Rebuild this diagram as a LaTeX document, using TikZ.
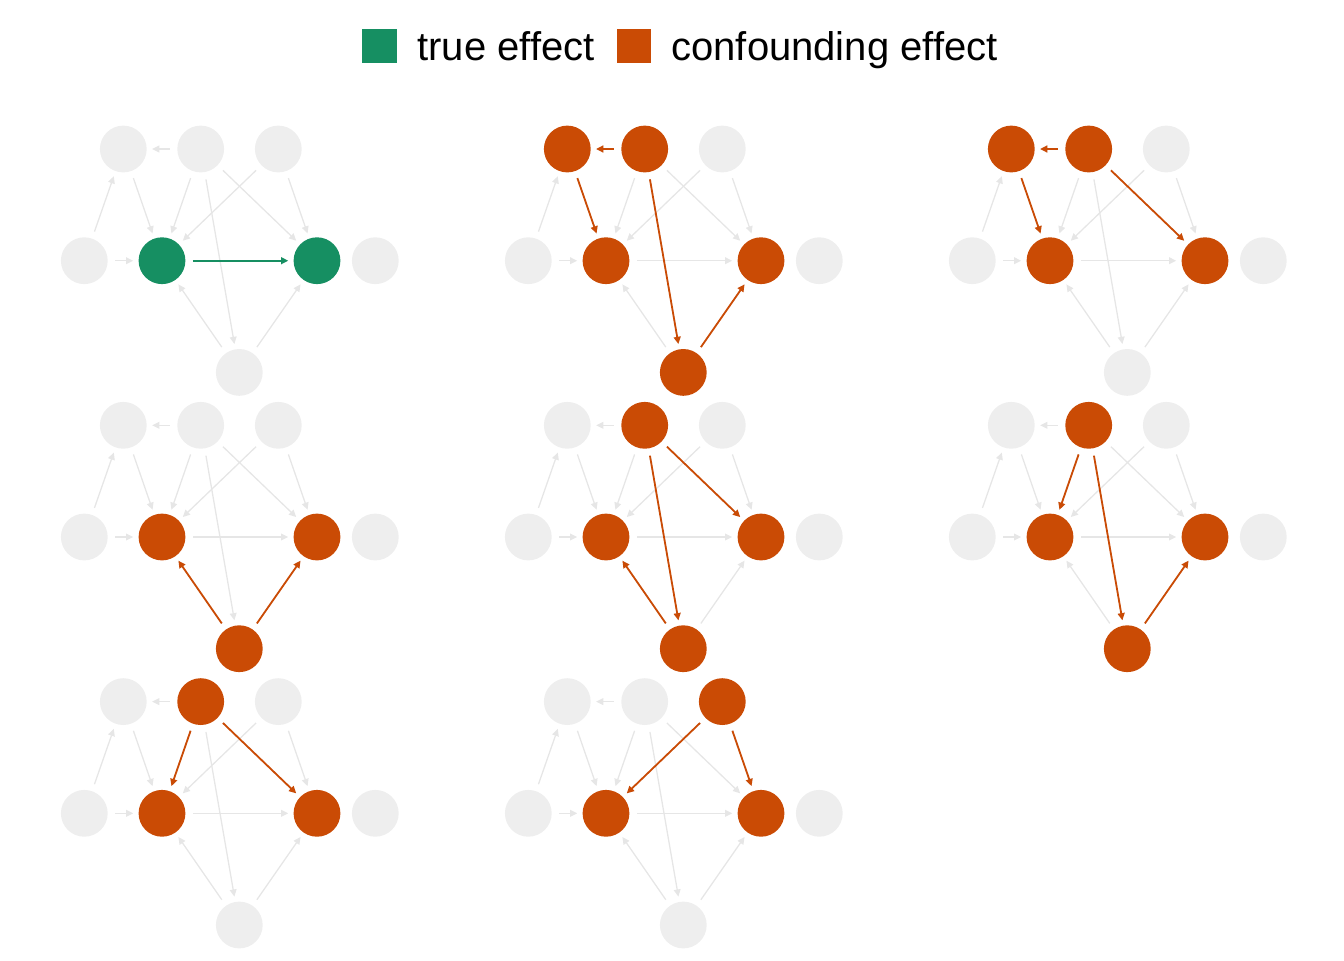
\documentclass[tikz,border=0pt]{standalone}
\usepackage{fontspec}
\setmainfont{Liberation Sans}
\usetikzlibrary{arrows.meta}
\definecolor{truegreen}{HTML}{168F62}
\definecolor{confred}{HTML}{CA4B05}
\definecolor{idlegray}{HTML}{EEEEEE}
\definecolor{edgegray}{HTML}{E6E6E6}
\tikzset{x=0.5pt,y=-0.5pt,
  dot/.style={circle,fill=idlegray,minimum size=23.4pt,inner sep=0pt},
  faint/.style={draw,-{Triangle[length=3.6pt,width=3.4pt]},color=edgegray,line width=0.65pt,shorten <=3.5pt,shorten >=2.5pt},
  strong/.style={faint,line width=0.9pt},
  truedot/.style={fill=truegreen},
  confdot/.style={fill=confred},
  truearc/.style={strong,color=truegreen},
  confarc/.style={strong,color=confred},
  key/.style={minimum size=17.2pt,inner sep=0pt},
  legend/.style={anchor=base west,inner sep=0pt,font=\fontsize{20}{24}\selectfont},
  na/.style={},nb/.style={},nc/.style={},nl/.style={},
  nx/.style={},ny/.style={},nr/.style={},nm/.style={}}

\newcommand{\dagpanel}[3]{%
  \begin{scope}[shift={(#2,#3)}]
    \node[dot,na] (#1a) at (-38.7,-111.7) {};
    \node[dot,nb] (#1b) at (38.7,-111.7) {};
    \node[dot,nc] (#1c) at (116.3,-111.7) {};
    \node[dot,nl] (#1l) at (-77.7,0) {};
    \node[dot,nx] (#1x) at (0,0) {};
    \node[dot,ny] (#1y) at (155,0) {};
    \node[dot,nr] (#1r) at (213.3,0) {};
    \node[dot,nm] (#1m) at (77.3,111.7) {};
  \end{scope}
  \path
    (#1b) edge[faint] (#1a)
    (#1l) edge[faint] (#1a)
    (#1a) edge[faint] (#1x)
    (#1b) edge[faint] (#1x)
    (#1c) edge[faint] (#1x)
    (#1l) edge[faint] (#1x)
    (#1b) edge[faint] (#1y)
    (#1c) edge[faint] (#1y)
    (#1x) edge[faint] (#1y)
    (#1b) edge[faint] (#1m)
    (#1m) edge[faint] (#1x)
    (#1m) edge[faint] (#1y)
    ;
}

\begin{document}
\begin{tikzpicture}
  \useasboundingbox (0,0) rectangle (1344,960);

  \node[key,fill=truegreen] (ktrue) at (379.5,46) {};
  \node[legend] (ltrue) at (417,60.5) {true effect};
  \node[key,fill=confred] (kconf) at (634,46) {};
  \node[legend] (lconf) at (671,60.5) {confounding effect};

  \begin{scope}[nx/.style=truedot,ny/.style=truedot]
    \dagpanel{p1}{162}{260.7}
    \path (p1x) edge[truearc] (p1y);
  \end{scope}

  \begin{scope}[na/.style=confdot,nb/.style=confdot,nx/.style=confdot,ny/.style=confdot,nm/.style=confdot]
    \dagpanel{p2}{606}{260.7}
    \path
    (p2b) edge[confarc] (p2a)
    (p2a) edge[confarc] (p2x)
    (p2b) edge[confarc] (p2m)
    (p2m) edge[confarc] (p2y)
    ;
  \end{scope}

  \begin{scope}[na/.style=confdot,nb/.style=confdot,nx/.style=confdot,ny/.style=confdot]
    \dagpanel{p3}{1050}{260.7}
    \path
    (p3b) edge[confarc] (p3a)
    (p3a) edge[confarc] (p3x)
    (p3b) edge[confarc] (p3y)
    ;
  \end{scope}

  \begin{scope}[nx/.style=confdot,ny/.style=confdot,nm/.style=confdot]
    \dagpanel{p4}{162}{537}
    \path
    (p4m) edge[confarc] (p4x)
    (p4m) edge[confarc] (p4y)
    ;
  \end{scope}

  \begin{scope}[nb/.style=confdot,nx/.style=confdot,ny/.style=confdot,nm/.style=confdot]
    \dagpanel{p5}{606}{537}
    \path
    (p5b) edge[confarc] (p5y)
    (p5b) edge[confarc] (p5m)
    (p5m) edge[confarc] (p5x)
    ;
  \end{scope}

  \begin{scope}[nb/.style=confdot,nx/.style=confdot,ny/.style=confdot,nm/.style=confdot]
    \dagpanel{p6}{1050}{537}
    \path
    (p6b) edge[confarc] (p6x)
    (p6b) edge[confarc] (p6m)
    (p6m) edge[confarc] (p6y)
    ;
  \end{scope}

  \begin{scope}[nb/.style=confdot,nx/.style=confdot,ny/.style=confdot]
    \dagpanel{p7}{162}{813.3}
    \path
    (p7b) edge[confarc] (p7x)
    (p7b) edge[confarc] (p7y)
    ;
  \end{scope}

  \begin{scope}[nc/.style=confdot,nx/.style=confdot,ny/.style=confdot]
    \dagpanel{p8}{606}{813.3}
    \path
    (p8c) edge[confarc] (p8x)
    (p8c) edge[confarc] (p8y)
    ;
  \end{scope}
\end{tikzpicture}
\end{document}
